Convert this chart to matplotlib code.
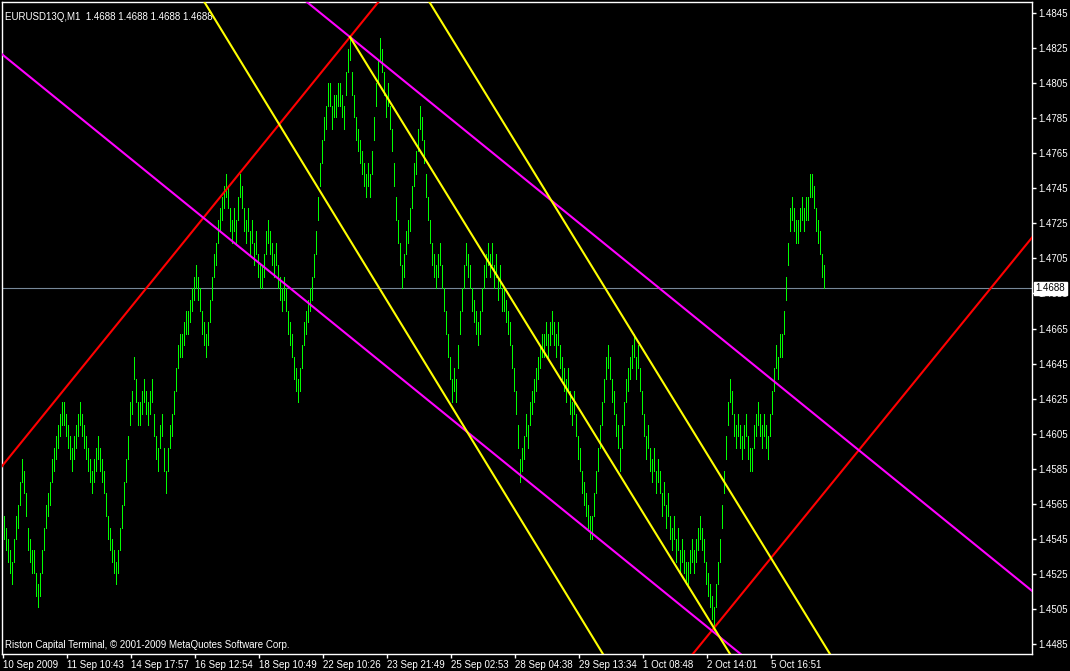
import matplotlib
matplotlib.use("Agg")
import matplotlib.pyplot as plt
import numpy as np

plt.rcParams['font.family'] = ['Liberation Sans', 'DejaVu Sans']

# ---------------- data ----------------
symbol_title = "EURUSD13Q,M1  1.4688 1.4688 1.4688 1.4688"
footer_text = "Riston Capital Terminal, \u00a9 2001-2009 MetaQuotes Software Corp."
last_price = 1.4688
step = 0.00065          # price step of the range bars (6.5 pips)
bar_range = 0.0013      # each bar spans 13 pips

# bar lows, in steps relative to the last price (one entry per bar)
bar_low_steps = [
    -22, -23, -24, -25, -26, -24, -22, -21, -19, -17,
    -18, -20, -23, -24, -25, -25, -27, -28, -27, -25,
    -23, -21, -20, -19, -17, -16, -15, -14, -13, -12,
    -12, -13, -14, -15, -16, -15, -14, -13, -12, -13,
    -14, -15, -16, -17, -18, -17, -16, -15, -16, -17,
    -18, -20, -22, -23, -24, -25, -26, -25, -23, -21,
    -19, -17, -15, -12, -11, -8, -10, -12, -12, -11,
    -10, -11, -12, -11, -10, -13, -15, -16, -14, -13,
    -16, -18, -16, -14, -13, -11, -9, -7, -6, -6,
    -5, -4, -4, -3, -2, -1, 0, -1, -2, -4,
    -5, -6, -5, -3, -1, 1, 2, 4, 5, 6,
    7, 8, 7, 5, 4, 5, 4, 6, 8, 7,
    5, 4, 5, 3, 4, 2, 3, 1, 0, 0,
    1, 3, 4, 3, 2, 1, 2, 0, -1, -2,
    -1, -2, -4, -5, -6, -8, -9, -10, -9, -7,
    -5, -4, -3, -2, -1, 1, 3, 6, 9, 11,
    13, 14, 16, 16, 14, 15, 15, 16, 16, 15,
    14, 17, 19, 20, 17, 15, 13, 12, 11, 10,
    9, 8, 9, 8, 10, 13, 16, 18, 20, 19,
    17, 15, 16, 14, 12, 9, 6, 4, 2, 0,
    1, 3, 4, 5, 7, 9, 10, 12, 14, 13,
    11, 8, 6, 4, 2, 1, 0, 1, 2, 0,
    -2, -4, -6, -8, -10, -9, -10, -7, -4, -2,
    0, 2, 1, 0, -2, -3, -4, -5, -4, -2,
    0, 1, 2, 1, 2, 0, 1, -1, 0, -2,
    -2, -3, -4, -5, -7, -9, -11, -14, -17, -16,
    -15, -13, -14, -12, -11, -10, -9, -8, -7, -6,
    -6, -5, -6, -5, -4, -5, -6, -5, -7, -8,
    -9, -10, -9, -11, -12, -11, -13, -15, -16, -18,
    -19, -20, -21, -22, -22, -20, -18, -16, -14, -12,
    -10, -8, -7, -8, -10, -11, -13, -14, -16, -14,
    -12, -10, -9, -8, -7, -6, -8, -7, -9, -11,
    -13, -15, -14, -16, -17, -16, -18, -17, -18, -20,
    -19, -21, -20, -22, -23, -22, -24, -23, -25, -24,
    -25, -26, -26, -25, -24, -25, -24, -23, -22, -23,
    -24, -26, -27, -28, -29, -30, -28, -26, -24, -21,
    -18, -15, -12, -10, -11, -13, -14, -13, -14, -15,
    -14, -13, -15, -16, -16, -14, -13, -12, -13, -14,
    -13, -14, -15, -13, -11, -9, -7, -8, -6, -6,
    -4, -1, 2, 5, 6, 5, 4, 4, 5, 6,
    5, 6, 6, 8, 8, 7, 5, 4, 3, 1, 0,
]

time_labels = ["10 Sep 2009", "11 Sep 10:43", "14 Sep 17:57", "16 Sep 12:54",
               "18 Sep 10:49", "22 Sep 10:26", "23 Sep 21:49", "25 Sep 02:53",
               "28 Sep 04:38", "29 Sep 13:34", "1 Oct 08:48", "2 Oct 14:01",
               "5 Oct 16:51"]
bars_per_label = 32

price_ticks = [1.4485, 1.4505, 1.4525, 1.4545, 1.4565, 1.4585, 1.4605, 1.4625,
               1.4645, 1.4665, 1.4685, 1.4705, 1.4725, 1.4745, 1.4765, 1.4785,
               1.4805, 1.4825, 1.4845]

# trend lines: (bar1, price1, bar2, price2) anchors
red_lines = [(-0.5, 1.45872, 173, 1.48313),
             (355, 1.44942, 513, 1.47155)]
magenta_lines = [(173, 1.48313, 513, 1.45163),
                 (-0.5, 1.48210, 513, 1.43453)]
yellow_lines = [(100.5, 1.48507, 299.5, 1.44793),
                (213, 1.48507, 413, 1.44793)]
yellow_rays = [(173, 1.48313, 355, 1.44942)]

# ---------------- figure ----------------
W, H = 1070, 671
fig = plt.figure(figsize=(W / 100, H / 100), dpi=100, facecolor="black")
ax = fig.add_axes([2 / W, 17 / H, 1030 / W, 652 / H], facecolor="black")
ax.set_xlim(-1, 514)
ax.set_ylim(1.447934, 1.485127)

idx = np.arange(len(bar_low_steps))
lows = last_price + np.array(bar_low_steps) * step
highs = lows + bar_range
ax.vlines(idx, lows, highs, colors="#00ff00", linewidth=0.6, antialiased=False, zorder=3)

# horizontal bid line
ax.axhline(last_price, color="#778899", linewidth=0.8, zorder=2)

# trend lines
for (x1, y1, x2, y2) in red_lines:
    ax.axline((x1, y1), (x2, y2), color="#ff0000", linewidth=1.5, zorder=4)
for (x1, y1, x2, y2) in magenta_lines:
    ax.axline((x1, y1), (x2, y2), color="#ff00ff", linewidth=1.5, zorder=4)
for (x1, y1, x2, y2) in yellow_lines:
    ax.axline((x1, y1), (x2, y2), color="#ffff00", linewidth=1.5, zorder=4)
for (x1, y1, x2, y2) in yellow_rays:
    xe = 600
    ye = y1 + (y2 - y1) / (x2 - x1) * (xe - x1)
    ax.plot([x1, xe], [y1, ye], color="#ffff00", linewidth=1.5, zorder=4)

# axes styling
for s in ax.spines.values():
    s.set_color("white")
    s.set_linewidth(1)

ax.yaxis.tick_right()
ax.set_yticks(price_ticks)
ax.set_yticklabels([f"{p:.4f}" for p in price_ticks])
ax.tick_params(axis="y", colors="white", labelcolor="white", length=3, width=1,
               labelsize=7, pad=1.5)

xt = [bars_per_label * n - 0.5 for n in range(len(time_labels))]
ax.set_xticks(xt)
ax.set_xticklabels(time_labels)
for lab in ax.get_xticklabels():
    lab.set_horizontalalignment("left")
ax.tick_params(axis="x", colors="white", labelcolor="white", length=3, width=1,
               labelsize=7, pad=1.5)

# current price box on the right axis
ax.text(1.0035, last_price, f"{last_price:.4f}", transform=ax.get_yaxis_transform(),
        ha="left", va="center", fontsize=7, color="black", zorder=10,
        bbox=dict(boxstyle="square,pad=0.15", facecolor="white", edgecolor="white"),
        clip_on=False)

# header and footer texts
ax.text(0.003, 0.985, symbol_title, transform=ax.transAxes, ha="left", va="top",
        color="white", fontsize=7)
ax.text(0.003, 0.014, footer_text, transform=ax.transAxes, ha="left", va="center",
        color="white", fontsize=7)

fig.savefig("out.png", dpi=100, facecolor="black")
